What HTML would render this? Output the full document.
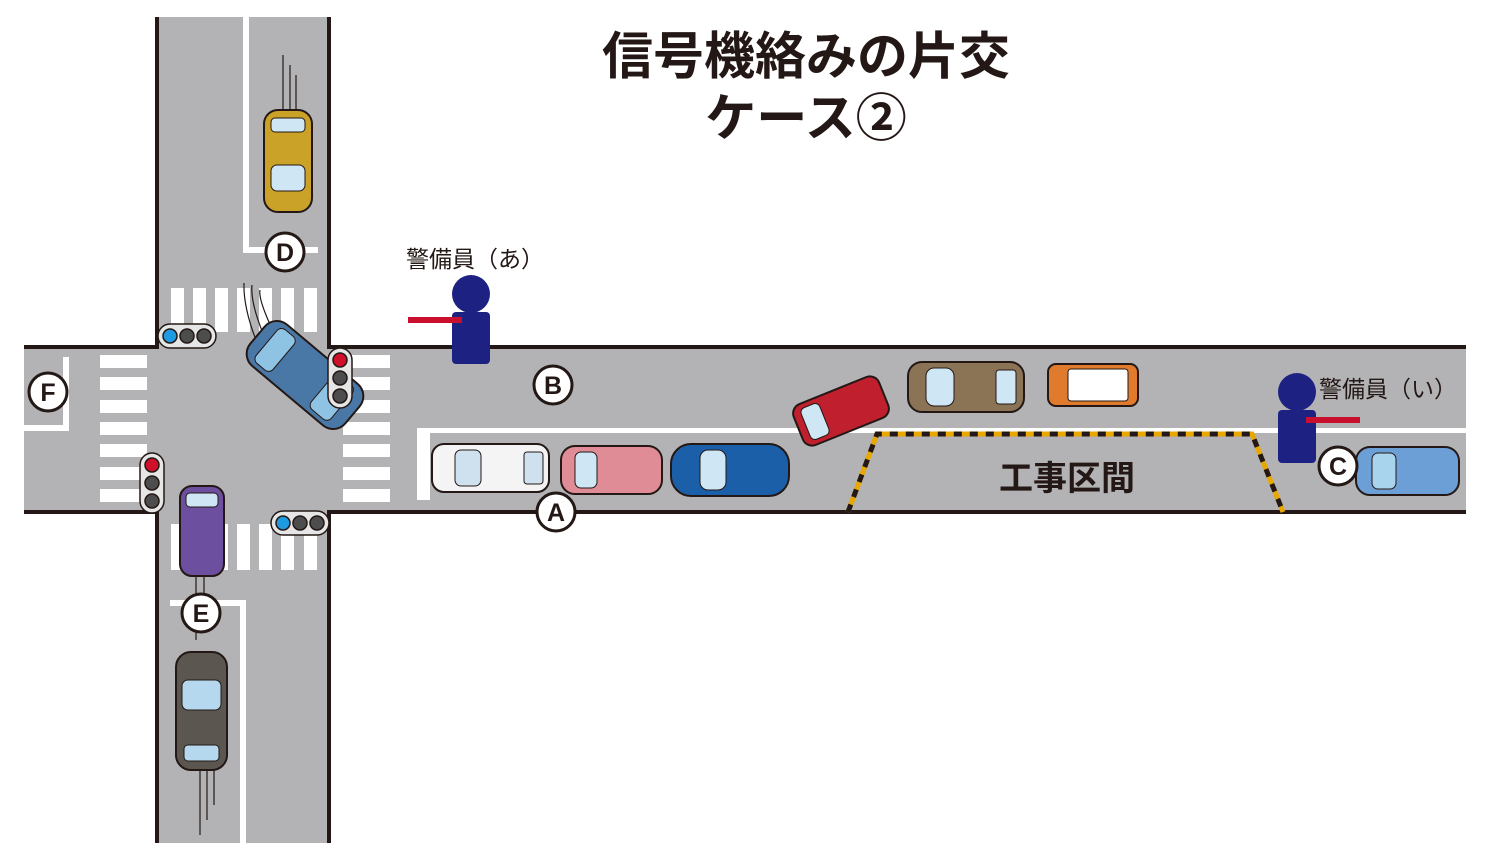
<!DOCTYPE html>
<html><head><meta charset="utf-8"><style>
html,body{margin:0;padding:0;background:#fff}
svg{display:block}
text{font-family:"Liberation Sans","Noto Sans CJK JP",sans-serif}
</style></head><body>
<svg width="1500" height="863" viewBox="0 0 1500 863" xmlns="http://www.w3.org/2000/svg">
<rect width="1500" height="863" fill="#fff"/>
<rect x="155" y="17" width="176" height="826" fill="#b3b3b5"/>
<rect x="24" y="345" width="1442" height="169" fill="#b3b3b5"/>
<g stroke="#231815" stroke-width="4" fill="none">
<path d="M157,17 V347 H24"/>
<path d="M329,17 V347 H1466"/>
<path d="M24,512 H157 V843"/>
<path d="M1466,512 H329 V843"/>
</g>
<g fill="#fff">
<rect x="243" y="17" width="6" height="236"/><rect x="243" y="247" width="75" height="6"/>
<rect x="240" y="603" width="6" height="240"/><rect x="170" y="600" width="76" height="6"/>
<rect x="63" y="357" width="6" height="73"/><rect x="24" y="425" width="45" height="6"/>
<rect x="417" y="428" width="1049" height="5"/><rect x="417" y="428" width="13" height="72"/>
</g>
<g fill="#fff">
<rect x="171" y="288" width="13" height="44"/><rect x="193" y="288" width="13" height="44"/><rect x="215" y="288" width="13" height="44"/><rect x="237" y="288" width="13" height="44"/><rect x="259" y="288" width="13" height="44"/><rect x="281" y="288" width="13" height="44"/><rect x="304" y="288" width="13" height="44"/>
<rect x="171" y="524" width="13" height="46"/><rect x="193" y="524" width="13" height="46"/><rect x="215" y="524" width="13" height="46"/><rect x="237" y="524" width="13" height="46"/><rect x="259" y="524" width="13" height="46"/><rect x="281" y="524" width="13" height="46"/><rect x="304" y="524" width="13" height="46"/>
<rect x="100" y="355" width="47" height="13"/><rect x="100" y="377" width="47" height="13"/><rect x="100" y="400" width="47" height="13"/><rect x="100" y="422" width="47" height="13"/><rect x="100" y="444" width="47" height="13"/><rect x="100" y="467" width="47" height="13"/><rect x="100" y="489" width="47" height="13"/>
<rect x="343" y="355" width="47" height="13"/><rect x="343" y="377" width="47" height="13"/><rect x="343" y="400" width="47" height="13"/><rect x="343" y="422" width="47" height="13"/><rect x="343" y="444" width="47" height="13"/><rect x="343" y="467" width="47" height="13"/><rect x="343" y="489" width="47" height="13"/>
</g>
<path d="M848,512 L877,434 H1252 L1283,512" fill="none" stroke="#e8a800" stroke-width="5"/>
<path d="M848,512 L877,434 H1252 L1283,512" fill="none" stroke="#231815" stroke-width="5" stroke-dasharray="8,8"/>
<text x="1067" y="490" font-size="34" font-weight="bold" text-anchor="middle" fill="#231815">工事区間</text>
<g stroke="#231815" stroke-width="1.2" fill="none">
<path d="M283,55 V110"/><path d="M290,65 V110"/><path d="M296,75 V110"/>
<path d="M260,290 Q258,300 275,335"/><path d="M252,285 Q250,305 268,345"/><path d="M244,283 Q243,310 260,350"/>
<path d="M196,575 V640"/><path d="M204,575 V620"/>
<path d="M200,770 V835"/><path d="M207,770 V820"/><path d="M214,770 V805"/>
</g>
<g stroke="#231815" stroke-width="2">
<rect x="264" y="110" width="48" height="102" rx="14" fill="#c9a227"/>
<rect x="271" y="165" width="34" height="26" rx="6" fill="#cfe6f5" stroke-width="1"/>
<rect x="271" y="118" width="34" height="14" rx="4" fill="#cfe6f5" stroke-width="1"/>
<g transform="translate(305,375) rotate(40)">
<rect x="-62" y="-27" width="124" height="54" rx="16" fill="#4a78a6"/>
<rect x="22" y="-22" width="26" height="44" rx="6" fill="#8ec3e3" stroke-width="1"/>
<rect x="-50" y="-22" width="22" height="44" rx="6" fill="#8ec3e3" stroke-width="1"/>
</g>
<rect x="180" y="486" width="44" height="90" rx="12" fill="#6c4f9e"/>
<rect x="186" y="493" width="32" height="14" rx="4" fill="#cfe6f5" stroke-width="1"/>
<rect x="176" y="652" width="51" height="118" rx="15" fill="#5b5750"/>
<rect x="182" y="680" width="39" height="30" rx="6" fill="#b5d8ee" stroke-width="1"/>
<rect x="184" y="745" width="35" height="16" rx="4" fill="#b5d8ee" stroke-width="1"/>
<rect x="432" y="444" width="117" height="48" rx="12" fill="#f4f4f4"/>
<rect x="455" y="450" width="26" height="36" rx="6" fill="#cfe0ee" stroke-width="1"/>
<rect x="524" y="452" width="19" height="32" rx="3" fill="#cfe0ee" stroke-width="1"/>
<rect x="561" y="446" width="101" height="48" rx="14" fill="#df8c96"/>
<rect x="575" y="452" width="22" height="36" rx="6" fill="#cfe6f5" stroke-width="1"/>
<rect x="671" y="444" width="118" height="52" rx="20" fill="#1c5fa9"/>
<rect x="700" y="450" width="26" height="40" rx="8" fill="#cfe6f5" stroke-width="1"/>
<g transform="translate(841,411) rotate(-22)">
<rect x="-46" y="-22" width="92" height="44" rx="10" fill="#c0202d"/>
<rect x="-38" y="-17" width="20" height="34" rx="5" fill="#cfe6f5" stroke-width="1"/>
</g>
<rect x="908" y="362" width="116" height="50" rx="14" fill="#8b7455"/>
<rect x="926" y="368" width="28" height="38" rx="8" fill="#cfe6f5" stroke-width="1"/>
<rect x="996" y="370" width="20" height="34" rx="3" fill="#cfe6f5" stroke-width="1"/>
<rect x="1048" y="364" width="90" height="42" rx="8" fill="#e07b2d"/>
<rect x="1068" y="369" width="60" height="32" rx="3" fill="#fff" stroke-width="1"/>
<rect x="1356" y="447" width="103" height="48" rx="14" fill="#6d9fd7"/>
<rect x="1372" y="453" width="24" height="36" rx="6" fill="#a9d4ee" stroke-width="1"/>
</g>
<g stroke="#231815" stroke-width="1.5">
<rect x="158" y="324" width="58" height="24" rx="12" fill="#e6e6e6"/>
<circle cx="170" cy="336" r="7" fill="#1e9ae0"/><circle cx="187" cy="336" r="7" fill="#4d4d4d"/><circle cx="204" cy="336" r="7" fill="#4d4d4d"/>
<rect x="271" y="511" width="58" height="24" rx="12" fill="#e6e6e6"/>
<circle cx="283" cy="523" r="7" fill="#1e9ae0"/><circle cx="300" cy="523" r="7" fill="#4d4d4d"/><circle cx="317" cy="523" r="7" fill="#4d4d4d"/>
<rect x="328" y="348" width="24" height="60" rx="12" fill="#e6e6e6"/>
<circle cx="340" cy="360" r="7" fill="#d0102a"/><circle cx="340" cy="378" r="7" fill="#4d4d4d"/><circle cx="340" cy="396" r="7" fill="#4d4d4d"/>
<rect x="140" y="453" width="24" height="60" rx="12" fill="#e6e6e6"/>
<circle cx="152" cy="465" r="7" fill="#d0102a"/><circle cx="152" cy="483" r="7" fill="#4d4d4d"/><circle cx="152" cy="501" r="7" fill="#4d4d4d"/>
</g>
<circle cx="471" cy="294" r="19" fill="#1d2181"/>
<rect x="452" y="312" width="38" height="52" rx="4" fill="#1d2181"/>
<rect x="408" y="317" width="54" height="6" fill="#c8102e"/>
<circle cx="1297" cy="392" r="19" fill="#1d2181"/>
<rect x="1278" y="410" width="38" height="53" rx="4" fill="#1d2181"/>
<rect x="1306" y="417" width="54" height="6" fill="#c8102e"/>
<text x="475" y="267" font-size="23" text-anchor="middle" fill="#231815">警備員（あ）</text>
<text x="1388" y="397" font-size="23" text-anchor="middle" fill="#231815">警備員（い）</text>
<g fill="#fff" stroke="#231815" stroke-width="3">
<circle cx="285" cy="252" r="19"/><circle cx="553" cy="385" r="19"/><circle cx="556" cy="512" r="19"/>
<circle cx="1338" cy="466" r="19"/><circle cx="48" cy="392" r="19"/><circle cx="201" cy="613" r="19"/>
</g>
<g font-size="25" font-weight="bold" text-anchor="middle" fill="#231815">
<text x="285" y="261">D</text><text x="553" y="394">B</text><text x="556" y="521">A</text>
<text x="1338" y="475">C</text><text x="48" y="401">F</text><text x="201" y="622">E</text>
</g>
<text x="806" y="74" font-size="51" font-weight="bold" text-anchor="middle" fill="#231815">信号機絡みの片交</text>
<text x="806" y="136" font-size="51" font-weight="bold" text-anchor="middle" fill="#231815">ケース②</text>
</svg>
</body></html>
